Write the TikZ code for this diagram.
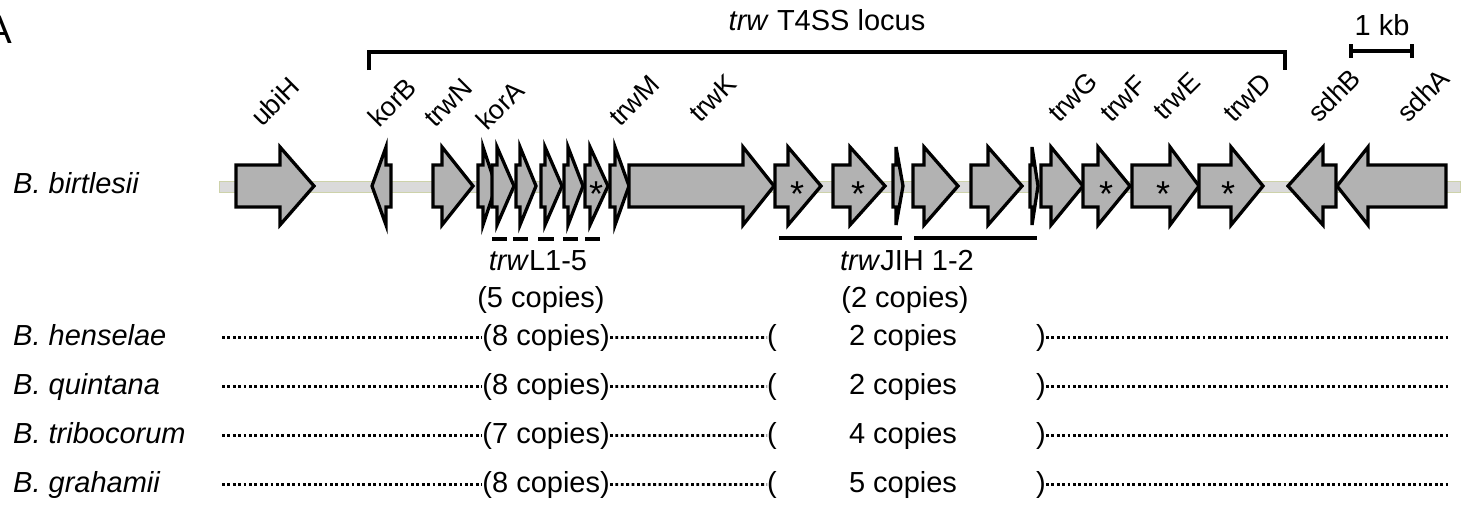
\documentclass[tikz,border=0pt]{standalone}
\usepackage{fontspec}
\setmainfont{Liberation Sans}
\definecolor{genefill}{RGB}{178,178,178}
\definecolor{bbfill}{RGB}{218,218,218}
\definecolor{bbdraw}{RGB}{205,210,170}
\newcommand\genearrow[3]{\draw[gene] (#1,165) -- (#2,165) -- (#2,147) -- (#3,186) -- (#2,225) -- (#2,207) -- (#1,207) -- cycle;}
\newcommand\specrow[5]{%
  \node[sp] (sp#1) at (13,#2) {#3};
  \node[txt, anchor=base east] (cl#1) at (610,#2) {(#4 copies)};
  \node[txt, anchor=base west] (lp#1) at (767,#2) {(};
  \node[txt, anchor=base] (cm#1) at (903,#2) {#5 copies};
  \node[txt, anchor=base west] (rp#1) at (1036,#2) {)};
  \coordinate (a#1) at (222,#2-7.4);
  \coordinate (b#1) at (1448,#2-7.4);
  \draw[dotline] (a#1) -- (a#1 -| cl#1.west);
  \draw[dotline] (cl#1.east) -- (lp#1.west);
  \draw[dotline] (rp#1.east) -- (b#1 |- rp#1.east);
}
\begin{document}
\begin{tikzpicture}[x=1pt,y=-1pt,
  gene/.style={fill=genefill, draw=black, line width=3.3pt, line join=miter},
  lab/.style={rotate=45, anchor=base west, inner sep=0pt, font=\fontsize{27}{27}\selectfont},
  txt/.style={inner sep=0pt, font=\fontsize{29}{29}\selectfont},
  sp/.style={inner sep=0pt, anchor=base west, font=\fontsize{29}{29}\selectfont\itshape},
  star/.style={inner sep=0pt, anchor=base, font=\fontsize{36}{36}\selectfont},
  dotline/.style={line width=2.8pt, dash pattern=on 2.8pt off 2.6pt},
  bar/.style={line width=3.2pt}]
\useasboundingbox (0,0) rectangle (1469,504);
% panel letter
\node[inner sep=0pt, anchor=base east, font=\fontsize{40}{40}\selectfont] (panel) at (12.5,43) {A};
% title bracket
\node[txt, anchor=base] (title) at (827,30) {\textit{trw} T4SS locus};
\coordinate (brL) at (369,70);
\coordinate (brR) at (1285,70);
\draw[bar] (brL) -- (369,52) -- (1285,52) -- (brR);
% scale bar
\node[txt, anchor=base] (kb) at (1382,35) {1 kb};
\coordinate (sbL) at (1351,51);
\coordinate (sbR) at (1412,51);
\draw[bar] (sbL) -- (sbR);
\draw[bar] (1351,44) -- (1351,58);
\draw[bar] (1412,44) -- (1412,58);
% species
\node[sp] (sp0) at (13,193) {B. birtlesii};
% backbone
\draw[fill=bbfill, draw=bbdraw, line width=0.8pt] (219,181) rectangle (1460,192);
% genes
\genearrow{236}{280}{314}
\genearrow{391}{386}{372}
\genearrow{433}{442}{473}
\genearrow{478}{483}{496}
\genearrow{492}{497}{514}
\genearrow{516}{520}{536}
\genearrow{541}{545}{562}
\genearrow{564}{568}{583}
\genearrow{585}{590}{608}
\genearrow{610}{615}{629}
\genearrow{629}{743}{774}
\genearrow{775}{788}{821}
\genearrow{833}{850}{885}
\genearrow{893}{896}{903}
\genearrow{913}{924}{958}
\genearrow{971}{988}{1022}
\genearrow{1030}{1032}{1038}
\genearrow{1041}{1051}{1083}
\genearrow{1083}{1098}{1130}
\genearrow{1132}{1170}{1199}
\genearrow{1199}{1231}{1263}
\genearrow{1336}{1323}{1288}
\genearrow{1446}{1368}{1337}
% stars
\foreach \sx [count=\i] in {596,797,858,1106,1163,1228}
  \node[star] (st\i) at (\sx,206) {*};
% gene labels
\node[lab] (ubiH) at (262,128) {ubiH};
\node[lab] (korB) at (379,129) {korB};
\node[lab] (trwN) at (435,129) {trwN};
\node[lab] (korA) at (487,132) {korA};
\node[lab] (trwM) at (620,128) {trwM};
\node[lab] (trwK) at (700,124) {trwK};
\node[lab] (trwG) at (1059,124) {trwG};
\node[lab] (trwF) at (1111,124) {trwF};
\node[lab] (trwE) at (1164,122) {trwE};
\node[lab] (trwD) at (1234,124) {trwD};
\node[lab] (sdhB) at (1319,124) {sdhB};
\node[lab] (sdhA) at (1408,124) {sdhA};
% trwL dashes
\foreach \xa/\xb [count=\i] in {492/507,513/528,538/554,563/578,585/600}
  \draw[bar] (\xa,239) coordinate (lda\i) -- (\xb,239) coordinate (ldb\i);
\node[txt, anchor=base] (trwL) at (538,270) {\textit{trw}L1-5};
\node[txt, anchor=base] (trwLc) at (541,307) {(5 copies)};
% trwJIH lines
\coordinate (j1a) at (779,238);
\coordinate (j1b) at (902,238);
\coordinate (j2a) at (914,238);
\coordinate (j2b) at (1037,238);
\draw[bar] (j1a) -- (j1b);
\draw[bar] (j2a) -- (j2b);
\node[txt, anchor=base] (trwJIH) at (907,270) {\textit{trw}JIH 1-2};
\node[txt, anchor=base] (trwJIHc) at (905,307) {(2 copies)};
% other species
\specrow{1}{345}{B. henselae}{8}{2}
\specrow{2}{394}{B. quintana}{8}{2}
\specrow{3}{443}{B. tribocorum}{7}{4}
\specrow{4}{492}{B. grahamii}{8}{5}
\end{tikzpicture}
\end{document}
